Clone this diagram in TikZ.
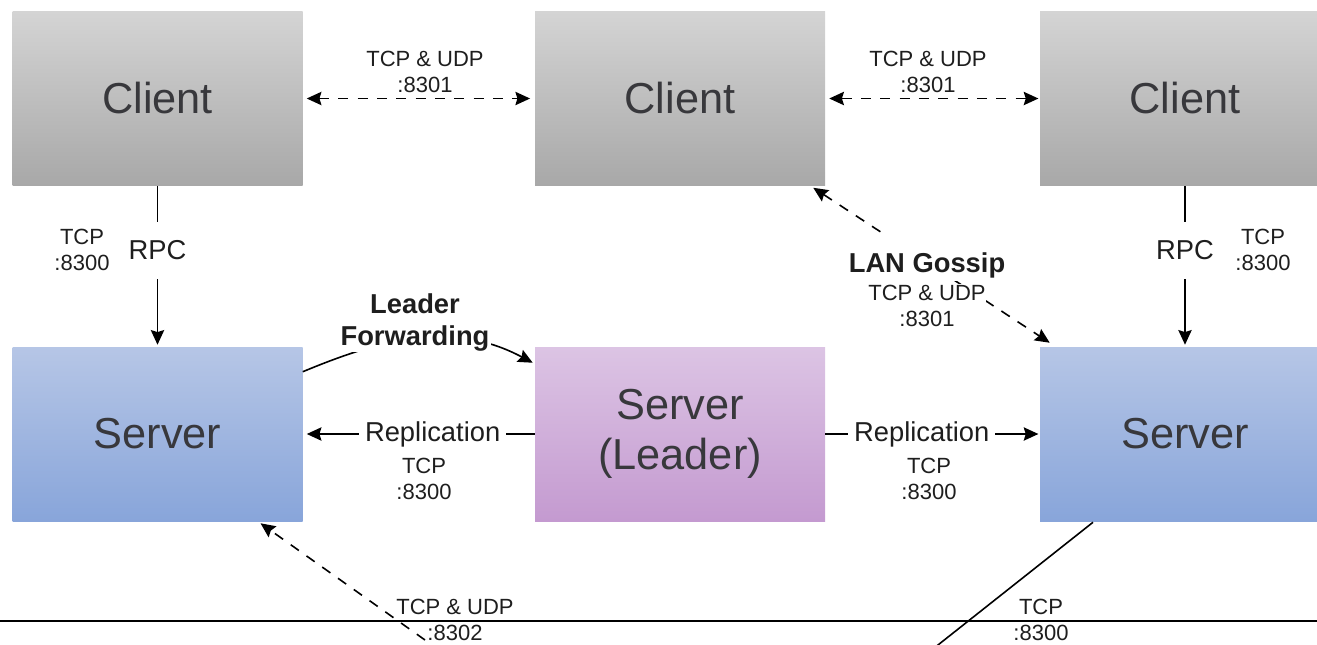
\documentclass[tikz,border=0pt]{standalone}
\usepackage{fontspec}
\setmainfont{Liberation Sans}
\usetikzlibrary{arrows.meta,calc}
\definecolor{clienttop}{RGB}{212,212,212}
\definecolor{clientbot}{RGB}{168,168,168}
\definecolor{servertop}{RGB}{182,198,230}
\definecolor{serverbot}{RGB}{136,165,218}
\definecolor{leadertop}{RGB}{220,196,228}
\definecolor{leaderbot}{RGB}{196,154,208}
\definecolor{boxtext}{RGB}{56,56,60}
\definecolor{lbltext}{RGB}{30,30,30}

\begin{document}
\begin{tikzpicture}[x=0.75pt,y=0.75pt,yscale=-1,xscale=1,
    box/.style={minimum width=217.5pt,minimum height=130.5pt,inner sep=0pt,align=center,
        text=boxtext,font=\fontsize{32.5}{38}\selectfont},
    clientbox/.style={box,top color=clienttop,bottom color=clientbot},
    serverbox/.style={box,top color=servertop,bottom color=serverbot},
    leaderbox/.style={box,top color=leadertop,bottom color=leaderbot},
    link/.style={line width=1.2pt,draw=black},
    tip/.style={-{Stealth[length=11pt,width=10pt,inset=1.5pt]}},
    bothtips/.style={{Stealth[length=11pt,width=10pt,inset=1.5pt]}-{Stealth[length=11pt,width=10pt,inset=1.5pt]}},
    dashlink/.style={link,dash pattern=on 7.5pt off 7pt},
    rpclbl/.style={fill=white,inner xsep=2pt,inner ysep=14pt,text=lbltext,font=\fontsize{20.5}{24}\selectfont},
    replbl/.style={fill=white,inner xsep=4.5pt,inner ysep=2pt,text=lbltext,font=\fontsize{20.5}{24}\selectfont},
    boldlbl/.style={align=center,inner sep=1pt,text=lbltext,font=\fontsize{20.5}{24}\selectfont\bfseries},
    portlbl/.style={align=center,inner sep=0.5pt,text=lbltext,font=\fontsize{16.5}{19.5}\selectfont}]
        \useasboundingbox (0,0) rectangle (1317,644);

        % Clients
        \node[clientbox] (cl1) at (157.5,98.5) {Client};
        \node[clientbox] (cl2) at (680,98.5) {Client};
        \node[clientbox] (cl3) at (1185,98.5) {Client};
        % Servers
        \node[serverbox] (sv1) at (157.5,434) {Server};
        \node[leaderbox] (ld) at (680,434) {Server\\(Leader)};
        \node[serverbox] (sv3) at (1185,434) {Server};
        % free ends, off the page
        \coordinate (wan1) at (425,640);
        \coordinate (wan3) at (919,660);

        % RPC
        \draw[link,tip,shorten >=1.5pt] (cl1) -- node[rpclbl,pos=0.4] (rpc1) {RPC} (sv1);
        \draw[link,tip,shorten >=1.5pt] (cl3) -- node[rpclbl,pos=0.4] (rpc3) {RPC} (sv3);
        \node[portlbl] (rp1) at (82,250) {TCP\\:8300};
        \node[portlbl] (rp3) at (1263,250) {TCP\\:8300};

        % Gossip between clients
        \draw[dashlink,bothtips,shorten <=3pt,shorten >=3.5pt] (cl1) -- (cl2);
        \draw[dashlink,bothtips,shorten <=3pt,shorten >=1pt] (cl2) -- (cl3);
        \node[portlbl] (gp12) at (425,72) {TCP \& UDP\\:8301};
        \node[portlbl] (gp23) at (928,72) {TCP \& UDP\\:8301};

        % LAN Gossip
        \draw[dashlink,bothtips] ($(cl2.south east)+(-12,2)$) -- ($(sv3.north west)+(10,-4)$);
        \node[boldlbl,fill=white,anchor=base,text height=28pt,text depth=6pt] (lan) at (927,272) {LAN Gossip};
        \node[portlbl,fill=white] (lanp) at (927,305.5) {TCP \& UDP\\:8301};

        % Leader Forwarding
        \draw[link,tip] ($(sv1.north east)+(0,25)$) .. controls (386,337) and (454,321) .. ($(ld.north west)+(-2,16)$);
        \node[boldlbl,fill=white] (fwd) at (415,322) {Leader\\Forwarding};

        % Replication
        \draw[link,tip,shorten >=3pt] (ld) -- node[replbl,pos=0.44] (rep1) {Replication} (sv1);
        \draw[link,tip,shorten >=1pt] (ld) -- node[replbl,pos=0.45] (rep3) {Replication} (sv3);
        \node[portlbl] (rt1) at (424,478.5) {TCP\\:8300};
        \node[portlbl] (rt3) at (929,478.5) {TCP\\:8300};

        % WAN
        \draw[dashlink,tip] (wan1) -- ($(sv1.south)+(103,2)$);
        \node[portlbl] (wp1) at (455,620) {TCP \& UDP\\:8302};
        \draw[link] ($(sv3.south)+(-92,1)$) -- (wan3);
        \node[portlbl] (wp3) at (1041,620) {TCP\\:8300};

        %Straight Lines
        \draw[line width=1.5pt] (0,621) -- (1317,621);
\end{tikzpicture}
\end{document}
